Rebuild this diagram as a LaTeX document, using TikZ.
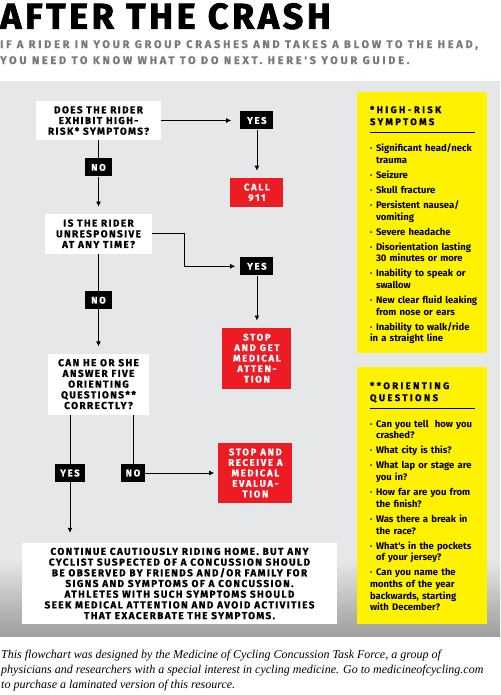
\documentclass[tikz,border=0pt]{standalone}
\usepackage{fontspec}
\setmainfont{Fira Sans}
\newfontfamily\headfont{Fira Sans}[LetterSpace=10,FakeBold=2]
\newfontfamily\subfont{Fira Sans}[LetterSpace=25,FakeBold=1]
\newfontfamily\capsfont{Fira Sans}[LetterSpace=14,FakeBold=1]
\newfontfamily\alertfont{Fira Sans}[LetterSpace=18,FakeBold=1]
\newfontfamily\listhead{Fira Sans}[LetterSpace=25,FakeBold=1]
\newfontfamily\listfont{Fira Sans}
\newfontfamily\notefont{Liberation Serif}
\usetikzlibrary{positioning,arrows.meta}

\definecolor{panelgray}{HTML}{E6E7E8}
\definecolor{shadegray}{HTML}{9D9D9D}
\definecolor{alertred}{HTML}{ED1C24}
\definecolor{noteyellow}{HTML}{FFF200}
\definecolor{subgray}{HTML}{7A7A7A}

\newcommand{\bitem}[1]{\par\vspace{3.3pt}\hangindent=6pt\hangafter=1\noindent\makebox[6pt][l]{\textperiodcentered}#1}

\begin{document}
\begin{tikzpicture}[x=1pt,y=-1pt]
  \tikzstyle{qbox}=[fill=white,inner sep=0pt,align=center,font=\capsfont\bfseries\fontsize{10}{10.7}\selectfont]
  \tikzstyle{tagbox}=[fill=black,text=white,inner sep=0pt,minimum width=27pt,minimum height=18pt,font=\alertfont\bfseries\fontsize{9.5}{10}\selectfont]
  \tikzstyle{alertbox}=[fill=alertred,text=white,inner sep=0pt,align=center,font=\alertfont\bfseries\fontsize{9.5}{10.5}\selectfont]
  \tikzstyle{notebox}=[fill=noteyellow,inner sep=0pt,minimum width=130pt]
  \tikzstyle{notehead}=[inner sep=0pt,align=left,font=\listhead\bfseries\fontsize{9.5}{12}\selectfont]
  \tikzstyle{notelist}=[inner sep=0pt,text width=110pt,align=left,font=\listfont\bfseries\fontsize{9.5}{11.7}\selectfont]
  \tikzstyle{arr}=[-{Latex[length=5pt,width=5pt]},shorten >=7pt]
  \useasboundingbox (0,0) rectangle (500,695);
  \fill[panelgray] (0,81) rectangle (500,636);
  \shade[top color=panelgray,bottom color=shadegray] (0,560) rectangle (500,636);
  % title
  \node[inner sep=0pt,anchor=north west,font=\headfont\bfseries\fontsize{36}{36}\selectfont] (title) at (0,3) {AFTER THE CRASH};
  \node[inner sep=0pt,anchor=north west,align=left,text=subgray,font=\subfont\bfseries\fontsize{11}{16}\selectfont] (subtitle) at (0,40)
    {IF A RIDER IN YOUR GROUP CRASHES AND TAKES A BLOW TO THE HEAD,\\YOU NEED TO KNOW WHAT TO DO NEXT. HERE'S YOUR GUIDE.};
  % flowchart
  \node[qbox,minimum width=125pt,minimum height=39pt] (risk) at (98.5,120.5) {DOES THE RIDER\\EXHIBIT HIGH-\\RISK* SYMPTOMS?};
  \node[tagbox,below=18pt of risk] (no1) {NO};
  \node[qbox,minimum width=107pt,minimum height=40pt,below=37pt of no1] (unresp) {IS THE RIDER\\UNRESPONSIVE\\AT ANY TIME?};
  \node[tagbox,below=37pt of unresp] (no2) {NO};
  \node[qbox,minimum width=101pt,minimum height=61pt,below=44pt of no2] (orient) {CAN HE OR SHE\\ANSWER FIVE\\ORIENTING\\QUESTIONS**\\CORRECTLY?};
  \node[tagbox,minimum width=33pt,right=79pt of risk] (yes1) {YES};
  \node[alertbox,minimum width=53pt,minimum height=29pt,below=48pt of yes1] (call) {CALL\\911};
  \node[tagbox,minimum width=33pt,below=50pt of call] (yes2) {YES};
  \node[alertbox,minimum width=69pt,minimum height=61pt,below=52pt of yes2] (getmed) {STOP\\AND GET\\MEDICAL\\ATTEN-\\TION};
  \node[tagbox,minimum width=30pt] (yes3) at (70,473) {YES};
  \node[tagbox,minimum width=24pt] (no3) at (133,473) {NO};
  \node[alertbox,minimum width=74pt,minimum height=60pt,right=73pt of no3] (receive) {STOP AND\\RECEIVE A\\MEDICAL\\EVALUA-\\TION};
  \node[qbox,minimum width=315pt,minimum height=81pt] (home) at (179.5,583.5)
    {CONTINUE CAUTIOUSLY RIDING HOME. BUT ANY\\CYCLIST SUSPECTED OF A CONCUSSION SHOULD\\BE OBSERVED BY FRIENDS AND/OR FAMILY FOR\\SIGNS AND SYMPTOMS OF A CONCUSSION.\\ATHLETES WITH SUCH SYMPTOMS SHOULD\\SEEK MEDICAL ATTENTION AND AVOID ACTIVITIES\\THAT EXACERBATE THE SYMPTOMS.};
  \coordinate (bend) at ([xshift=32pt]unresp.east);
  \draw[line width=0.8pt] (risk) -- (no1);
  \draw[arr,line width=0.8pt] (no1) -- (unresp);
  \draw[arr,line width=0.8pt,shorten >=9pt] (risk) -- (yes1);
  \draw[arr,line width=0.8pt] (yes1) -- (call);
  \draw[arr,line width=0.8pt,shorten >=5pt] (unresp.east) -- (bend) |- (yes2);
  \draw[line width=0.8pt] (unresp) -- (no2);
  \draw[arr,line width=0.8pt] (no2) -- (orient);
  \draw[arr,line width=0.8pt] (yes2) -- (getmed);
  \draw[line width=0.8pt] (orient.south -| yes3) -- (yes3);
  \draw[line width=0.8pt] (orient.south -| no3) -- (no3);
  \draw[arr,line width=0.8pt,shorten >=4pt] (no3) -- (receive);
  \draw[arr,line width=0.8pt,shorten >=10pt] (yes3) -- (yes3 |- home.north);
  % side notes
  \node[notebox,minimum height=261pt] (hrbox) at (422,222.5) {};
  \node[notehead,anchor=north west] (hrhead) at ([shift={(13,14)}]hrbox.north west) {*HIGH-RISK\\SYMPTOMS};
  \draw[line width=1pt] ([shift={(13,41)}]hrbox.north west) -- ++(105,0);
  \node[notelist,anchor=north west] (hrlist) at ([shift={(13,52)}]hrbox.north west)
    {\hangindent=6pt\hangafter=1\noindent\makebox[6pt][l]{\textperiodcentered}Significant head/neck trauma
     \bitem{Seizure}
     \bitem{Skull fracture}
     \bitem{Persistent nausea/ vomiting}
     \bitem{Severe headache}
     \bitem{Disorientation lasting 30 minutes or more}
     \bitem{Inability to speak or swallow}
     \bitem{New clear fluid leaking from nose or ears}
     \bitem{Inability to walk/ride in a straight line}};
  \node[notebox,minimum height=257pt] (oqbox) at (422,495.5) {};
  \node[notehead,anchor=north west] (oqhead) at ([shift={(13,15)}]oqbox.north west) {**ORIENTING\\QUESTIONS};
  \draw[line width=1pt] ([shift={(13,42)}]oqbox.north west) -- ++(105,0);
  \node[notelist,anchor=north west] (oqlist) at ([shift={(13,53)}]oqbox.north west)
    {\hangindent=6pt\hangafter=1\noindent\makebox[6pt][l]{\textperiodcentered}Can you tell\ \ how you crashed?
     \bitem{What city is this?}
     \bitem{What lap or stage are you in?}
     \bitem{How far are you from the finish?}
     \bitem{Was there a break in the race?}
     \bitem{What's in the pockets of your jersey?}
     \bitem{Can you name the months of the year backwards, starting\newline with December?}};
  % credit line
  \node[inner sep=0pt,anchor=north west,align=left,font=\notefont\itshape\fontsize{12}{15}\selectfont] (credit) at (1,650)
    {This flowchart was designed by the Medicine of Cycling Concussion Task Force, a group of\\physicians and researchers with a special interest in cycling medicine. Go to medicineofcycling.com\\to purchase a laminated version of this resource.};
\end{tikzpicture}
\end{document}
